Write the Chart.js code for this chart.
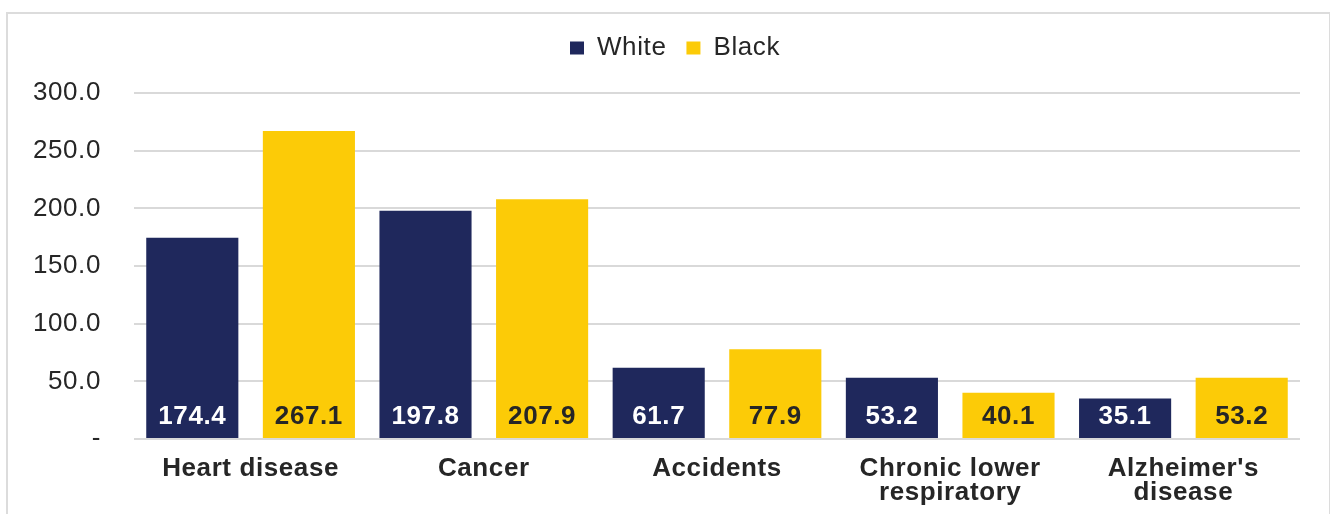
<!DOCTYPE html>
<html>
<head>
<meta charset="utf-8">
<script src="https://cdn.jsdelivr.net/npm/chart.js@4"></script>
<style>
  html, body { margin: 0; padding: 0; background: #fff; }
  #wrap { position: relative; width: 1330px; height: 514px; overflow: hidden; }
  #frame {
    position: absolute; left: 6px; top: 12px; width: 1321px; height: 520px;
    border: 2px solid #dcdcdc; border-bottom: none; pointer-events: none;
  }
  canvas { position: absolute; left: 0; top: 0; }
</style>
</head>
<body>
<div id="wrap">
  <canvas id="myChart" width="1330" height="514"></canvas>
  <div id="frame"></div>
</div>
<script>
// Death rates by cause, per 100,000
const categories = ['Heart disease', 'Cancer', 'Accidents', ['Chronic lower', 'respiratory'], ["Alzheimer's", 'disease']];
const whiteRates = [174.4, 197.8, 61.7, 53.2, 35.1];
const blackRates = [267.1, 207.9, 77.9, 40.1, 53.2];
const seriesNames = ['White', 'Black'];

const navy = '#1f285c';
const gold = '#fccb07';
const textColor = '#262626';
const fontFamily = '"Liberation Sans", Arial, sans-serif';

// slightly looser text spacing on the whole canvas
const wideText = {
    id: 'wideText',
    beforeUpdate(chart) { chart.ctx.letterSpacing = '0.6px'; },
    beforeDraw(chart) { chart.ctx.letterSpacing = '0.6px'; }
};

// value labels sitting at the foot of each bar
const barValueLabels = {
    id: 'barValueLabels',
    afterDatasetsDraw(chart) {
        const ctx = chart.ctx;
        const zeroY = chart.scales.y.getPixelForValue(0);
        ctx.save();
        ctx.font = 'bold 26px ' + fontFamily;
        ctx.textAlign = 'center';
        ctx.textBaseline = 'middle';
        chart.data.datasets.forEach((ds, i) => {
            const meta = chart.getDatasetMeta(i);
            ctx.fillStyle = i === 0 ? '#ffffff' : textColor;
            meta.data.forEach((bar, j) => {
                ctx.fillText(ds.data[j].toFixed(1), bar.x, zeroY - 22);
            });
        });
        ctx.restore();
    }
};

// extra room under the legend, and nudge it a little to the right
const legendGap = {
    id: 'legendGap',
    beforeInit(chart) {
        const fit = chart.legend.fit;
        chart.legend.fit = function () {
            fit.call(this);
            this.height += 22;
        };
    },
    afterLayout(chart) {
        chart.legend.left += 20;
        chart.legend.right += 20;
    }
};

new Chart(document.getElementById('myChart'), {
    type: 'bar',
    data: {
        labels: categories,
        datasets: [
            { label: seriesNames[0], data: whiteRates, backgroundColor: navy },
            { label: seriesNames[1], data: blackRates, backgroundColor: gold }
        ]
    },
    options: {
        responsive: false,
        animation: false,
        layout: { padding: { top: 15, right: 30, bottom: 0, left: 10 } },
        datasets: {
            bar: { categoryPercentage: 1.0, barPercentage: 0.79 }
        },
        plugins: {
            tooltip: { enabled: false },
            legend: {
                position: 'top',
                labels: {
                    boxWidth: 14,
                    boxHeight: 13,
                    padding: 20,
                    color: textColor,
                    font: { family: fontFamily, size: 26 }
                }
            }
        },
        scales: {
            x: {
                grid: { display: false },
                border: { display: false },
                ticks: {
                    color: textColor,
                    padding: 9,
                    maxRotation: 0,
                    font: { family: fontFamily, size: 26, weight: 'bold', lineHeight: 0.95 }
                },
                afterFit(scale) { scale.height = 75; }
            },
            y: {
                min: 0,
                max: 300,
                grid: { color: '#d9d9d9', lineWidth: 2, drawTicks: false },
                border: { display: false },
                ticks: {
                    stepSize: 50,
                    padding: 33,
                    color: textColor,
                    font: { family: fontFamily, size: 26 },
                    callback: v => v === 0 ? '-' : v.toFixed(1)
                },
                afterFit(scale) { scale.width = 124; }
            }
        }
    },
    plugins: [wideText, barValueLabels, legendGap]
});
</script>
</body>
</html>
